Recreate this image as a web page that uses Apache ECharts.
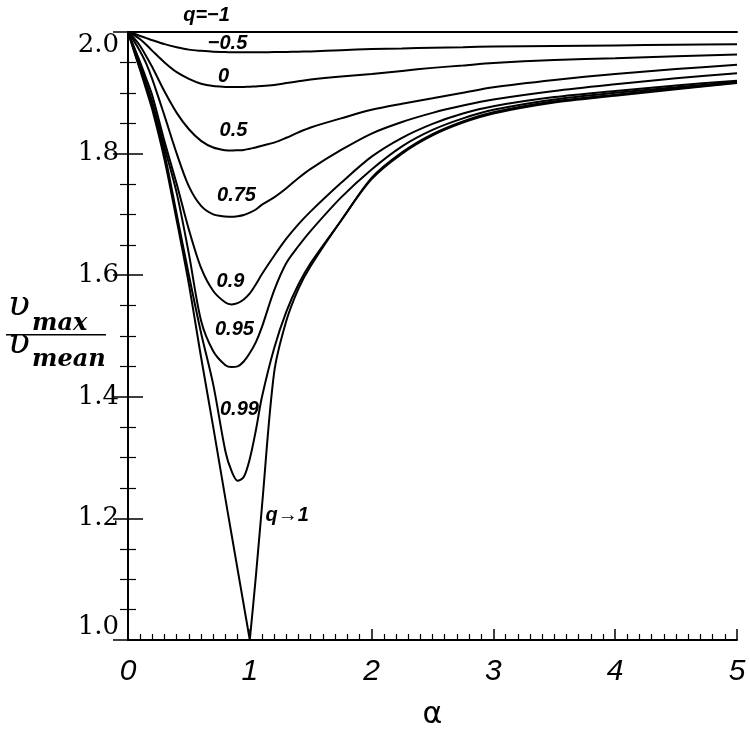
<!DOCTYPE html>
<html>
<head>
<meta charset="utf-8">
<script src="https://cdn.jsdelivr.net/npm/echarts@6/dist/echarts.min.js"></script>
<style>
html,body{margin:0;padding:0;background:#fff;}
#chart{width:750px;height:735px;}
</style>
</head>
<body>
<div id="chart"></div>
<script>
const alphaGrid = [0,0.05,0.1,0.15,0.2,0.3,0.4,0.5,0.6,0.7,0.8,0.85,0.9,0.95,1.0,1.05,1.1,1.2,1.3,1.4,1.5,1.75,2.0,2.25,2.5,2.75,3.0,3.5,4.0,4.5,5.0];
const qm1  = [2,2,2,2,2,2,2,2,2,2,2,2,2,2,2,2,2,2,2,2,2,2,2,2,2,2,2,2,2,2,2];
const qm05 = [2.0,1.997,1.9935,1.99,1.9865,1.980,1.975,1.971,1.969,1.9675,1.967,1.9667,1.9665,1.9665,1.9665,1.9666,1.9667,1.967,1.9673,1.9677,1.968,1.970,1.972,1.973,1.974,1.975,1.976,1.977,1.978,1.979,1.980];
const q0   = [2.0,1.995,1.988,1.979,1.969,1.950,1.934,1.923,1.915,1.911,1.9097,1.9095,1.9095,1.9097,1.910,1.9105,1.911,1.913,1.916,1.919,1.922,1.927,1.931,1.936,1.941,1.945,1.949,1.954,1.957,1.960,1.963];
const q05  = [2.0,1.99,1.977,1.960,1.942,1.902,1.867,1.840,1.821,1.810,1.8055,1.805,1.8055,1.806,1.808,1.810,1.813,1.818,1.826,1.835,1.843,1.858,1.872,1.882,1.891,1.900,1.909,1.921,1.931,1.939,1.946];
const q075 = [2.0,1.985,1.968,1.948,1.922,1.862,1.80,1.746,1.714,1.70,1.6965,1.696,1.697,1.699,1.703,1.708,1.716,1.728,1.743,1.760,1.775,1.806,1.833,1.852,1.867,1.879,1.889,1.903,1.914,1.924,1.932];
const q09  = [2.0,1.975,1.95,1.923,1.895,1.82,1.75,1.675,1.612,1.574,1.555,1.552,1.554,1.56,1.57,1.585,1.602,1.632,1.660,1.684,1.705,1.752,1.795,1.826,1.849,1.866,1.878,1.893,1.903,1.912,1.920];
const q095 = [2.0,1.973,1.945,1.915,1.885,1.81,1.735,1.635,1.525,1.475,1.452,1.449,1.45,1.458,1.472,1.49,1.515,1.575,1.62,1.648,1.673,1.728,1.774,1.812,1.839,1.858,1.872,1.889,1.900,1.909,1.918];
const q099 = [2.0,1.97,1.94,1.91,1.88,1.80,1.70,1.60,1.505,1.42,1.31,1.278,1.262,1.268,1.298,1.345,1.40,1.48,1.54,1.585,1.62,1.69,1.76,1.802,1.832,1.853,1.868,1.886,1.897,1.907,1.917];
const q1   = [2.0,1.968,1.937,1.905,1.872,1.79,1.69,1.585,1.465,1.35,1.232,1.174,1.116,1.058,1.0,1.105,1.22,1.44,1.525,1.578,1.615,1.69,1.758,1.800,1.830,1.851,1.866,1.884,1.895,1.906,1.916];

const curves = [qm1,qm05,q0,q05,q075,q09,q095,q099];
const curveLabels = ['q=\u22121','\u22120.5','0','0.5','0.75','0.9','0.95','0.99','q\u21921'];
const labelAlpha = [0.645,0.817,0.784,0.866,0.891,0.841,0.874,0.915,1.307];
const labelV     = [2.0276,1.9806,1.927,1.838,1.731,1.590,1.511,1.379,1.204];

const chart = echarts.init(document.getElementById('chart'), null, {renderer:'canvas'});
const axisLine = {show:true, lineStyle:{color:'#000', width:2}};
function lineSeries(name, pts){
  return {type:'line', name:name, data:pts, showSymbol:false, smooth:0.3, clip:false,
    lineStyle:{color:'#000', width:2}, silent:true, z:3};
}
const series = curves.map((arr,k)=>lineSeries(curveLabels[k], alphaGrid.map((a,i)=>[a, arr[i]])));
const cusp = alphaGrid.indexOf(1.0);
const q1pts = alphaGrid.map((a,i)=>[a, q1[i]]);
series.push(lineSeries('q\u21921 (left)', q1pts.slice(0, cusp+1)));
series.push(lineSeries('q\u21921 (right)', q1pts.slice(cusp)));

chart.setOption({
  animation:false,
  backgroundColor:'#fff',
  grid:{left:128, right:13, top:32, bottom:87, show:false},
  xAxis:[{
    type:'value', min:0, max:5, interval:1, position:'bottom',
    axisLine:axisLine,
    axisTick:{show:true, inside:true, length:11, lineStyle:{color:'#000', width:1.5}},
    minorTick:{show:true, splitNumber:10, length:6, lineStyle:{color:'#000', width:1.2}},
    splitLine:{show:false},
    axisLabel:{color:'#000', fontSize:30, fontStyle:'italic', fontFamily:'Liberation Sans', margin:17},
    name:'\u03b1', nameLocation:'middle', nameGap:60,
    nameTextStyle:{color:'#000', fontSize:30, fontFamily:'DejaVu Sans'}
  },{
    type:'value', min:0, max:5, interval:1, position:'top',
    axisLine:axisLine, axisTick:{show:false}, axisLabel:{show:false}, splitLine:{show:false}
  }],
  yAxis:[{
    type:'value', min:1, max:2, interval:0.2, position:'left',
    axisLine:axisLine,
    axisTick:{show:true, inside:true, length:15, lineStyle:{color:'#000', width:1.5}},
    minorTick:{show:true, splitNumber:4, length:8, lineStyle:{color:'#000', width:1.2}},
    splitLine:{show:false},
    axisLabel:{color:'#000', fontSize:26, fontFamily:'DejaVu Serif', margin:9,
      formatter:v=>v.toFixed(1), verticalAlignMaxLabel:'top', verticalAlignMinLabel:'bottom'}
  },{
    type:'value', min:1, max:2, interval:0.2, position:'right',
    axisLine:axisLine,
    axisTick:{show:true, inside:true, length:15, lineStyle:{color:'#000', width:1.5}},
    minorTick:{show:true, splitNumber:4, length:8, lineStyle:{color:'#000', width:1.2}},
    splitLine:{show:false}, axisLabel:{show:false}
  }],
  series:series
});

const labelGraphics = curveLabels.map((t,k)=>{
  const p = chart.convertToPixel({xAxisIndex:0, yAxisIndex:0}, [labelAlpha[k], labelV[k]]);
  return {type:'text', x:p[0], y:p[1], z:10,
    style:{text:t, fill:'#000', font:'italic bold 20px "Liberation Sans"', align:'center', verticalAlign:'middle'}};
});

chart.setOption({graphic:[
  ...labelGraphics,
  {type:'text', x:8, y:324, style:{text:'\u03c5', fill:'#000', font:'italic 36px "DejaVu Serif"', verticalAlign:'bottom'}},
  {type:'text', x:32, y:336, style:{text:'max', fill:'#000', font:'italic bold 24px "DejaVu Serif"', verticalAlign:'bottom'}},
  {type:'rect', shape:{x:6, y:334, width:100, height:1.6}, style:{fill:'#000'}},
  {type:'text', x:8, y:362, style:{text:'\u03c5', fill:'#000', font:'italic 36px "DejaVu Serif"', verticalAlign:'bottom'}},
  {type:'text', x:32, y:372, style:{text:'mean', fill:'#000', font:'italic bold 24px "DejaVu Serif"', verticalAlign:'bottom'}}
]});
</script>
</body>
</html>
